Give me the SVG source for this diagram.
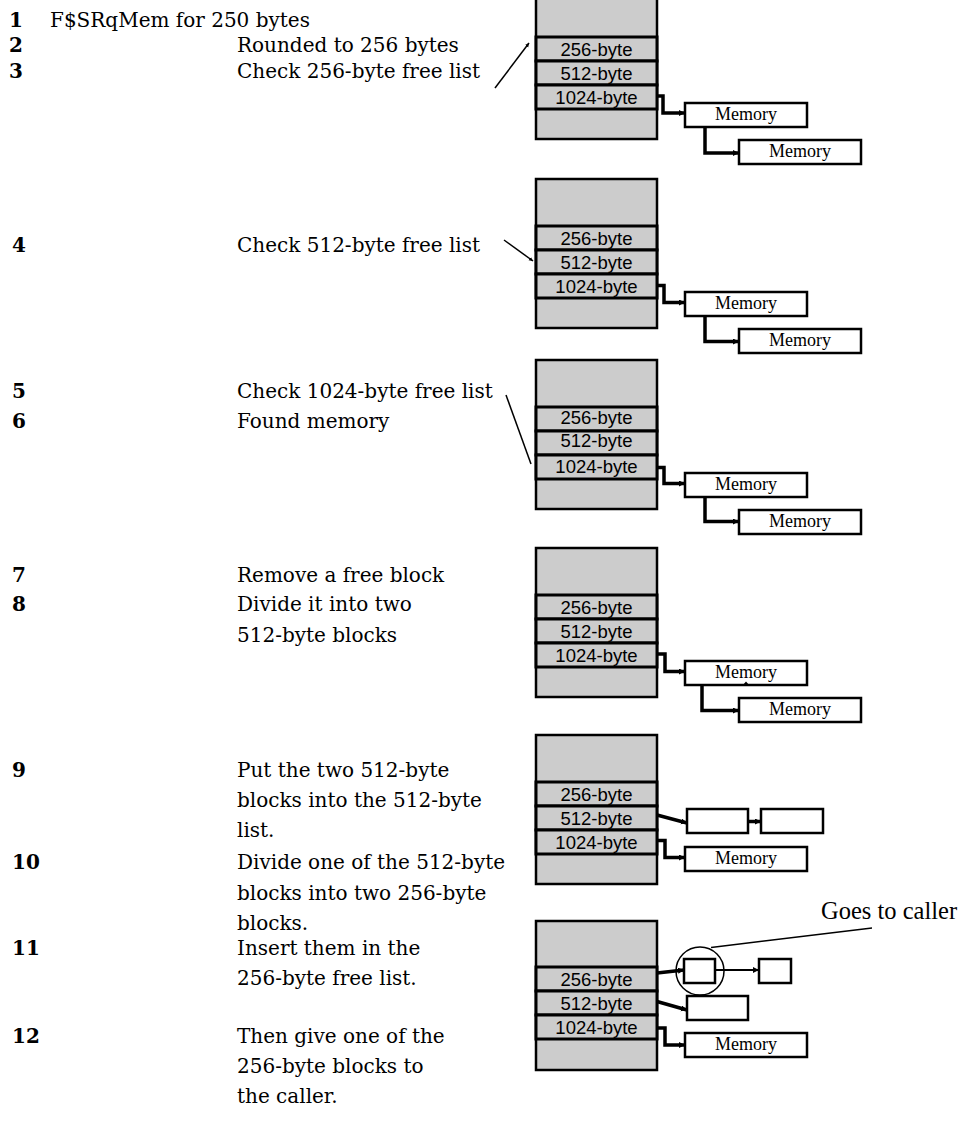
<svg xmlns="http://www.w3.org/2000/svg" width="969" height="1135" viewBox="0 0 969 1135">
<style>
.txt{font-family:"DejaVu Serif","Liberation Serif",serif;font-size:20px;fill:#000}
.num{font-family:"DejaVu Serif","Liberation Serif",serif;font-size:20px;font-weight:bold;fill:#000}
.big{fill:#cccccc;stroke:#000;stroke-width:2.5}
.row{fill:#cccccc;stroke:#000;stroke-width:3}
.rl{font-family:"Liberation Sans",Arial,sans-serif;font-size:18.5px;text-anchor:middle;fill:#000}
.box{fill:#fff;stroke:#000;stroke-width:2.5}
.ml{font-family:"Liberation Serif","Times New Roman",serif;font-size:18px;text-anchor:middle;fill:#000}
.con{fill:none;stroke:#000;stroke-width:3.5;marker-end:url(#ah)}
.con2{fill:none;stroke:#000;stroke-width:2;marker-end:url(#ah)}
.ptr{fill:none;stroke:#000;stroke-width:1.5}
</style>
<defs>
<marker id="ah" markerUnits="userSpaceOnUse" markerWidth="8" markerHeight="8" refX="6" refY="3" orient="auto">
<path d="M0,0 L6,3 L0,6 Z" fill="#000"/>
</marker>
<marker id="ahs" markerUnits="userSpaceOnUse" markerWidth="6" markerHeight="6" refX="4" refY="2" orient="auto">
<path d="M0,0 L4,2 L0,4 Z" fill="#000"/>
</marker>
</defs>

<g id="steps">
<text class="num" x="9" y="27">1</text><text class="txt" x="50" y="27">F$SRqMem for 250 bytes</text>
<text class="num" x="9" y="52">2</text><text class="txt" x="237" y="52">Rounded to 256 bytes</text>
<text class="num" x="9" y="78">3</text><text class="txt" x="237" y="78">Check 256-byte free list</text>
<text class="num" x="12" y="252">4</text><text class="txt" x="237" y="252">Check 512-byte free list</text>
<text class="num" x="12" y="398">5</text><text class="txt" x="237" y="398">Check 1024-byte free list</text>
<text class="num" x="12" y="428">6</text><text class="txt" x="237" y="428">Found memory</text>
<text class="num" x="12" y="582">7</text><text class="txt" x="237" y="582">Remove a free block</text>
<text class="num" x="12" y="611">8</text><text class="txt" x="237" y="611">Divide it into two</text>
<text class="txt" x="237" y="642">512-byte blocks</text>
<text class="num" x="12" y="777">9</text><text class="txt" x="237" y="777">Put the two 512-byte</text>
<text class="txt" x="237" y="807">blocks into the 512-byte</text>
<text class="txt" x="237" y="837">list.</text>
<text class="num" x="12" y="869">10</text><text class="txt" x="237" y="869">Divide one of the 512-byte</text>
<text class="txt" x="237" y="900">blocks into two 256-byte</text>
<text class="txt" x="237" y="930">blocks.</text>
<text class="num" x="12" y="955">11</text><text class="txt" x="237" y="955">Insert them in the</text>
<text class="txt" x="237" y="985">256-byte free list.</text>
<text class="num" x="12" y="1043">12</text><text class="txt" x="237" y="1043">Then give one of the</text>
<text class="txt" x="237" y="1073">256-byte blocks to</text>
<text class="txt" x="237" y="1103">the caller.</text>
</g>

<!-- Panel 1 -->
<g id="panel1" transform="translate(0,-10)">
<rect class="big" x="536" y="0" width="121" height="149"/>
<rect class="row" x="536" y="47" width="121" height="24"/>
<rect class="row" x="536" y="71" width="121" height="24"/>
<rect class="row" x="536" y="95" width="121" height="24"/>
<text class="rl" x="596.5" y="66">256-byte</text>
<text class="rl" x="596.5" y="90">512-byte</text>
<text class="rl" x="596.5" y="114">1024-byte</text>
<rect class="box" x="685" y="113" width="122" height="24"/>
<text class="ml" x="746" y="130">Memory</text>
<rect class="box" x="739" y="150" width="122" height="24"/>
<text class="ml" x="800" y="167">Memory</text>
</g>
<!-- Panel 2 -->
<g id="panel2" transform="translate(0,179)">
<rect class="big" x="536" y="0" width="121" height="149"/>
<rect class="row" x="536" y="47" width="121" height="24"/>
<rect class="row" x="536" y="71" width="121" height="24"/>
<rect class="row" x="536" y="95" width="121" height="24"/>
<text class="rl" x="596.5" y="66">256-byte</text>
<text class="rl" x="596.5" y="90">512-byte</text>
<text class="rl" x="596.5" y="114">1024-byte</text>
<rect class="box" x="685" y="113" width="122" height="24"/>
<text class="ml" x="746" y="130">Memory</text>
<rect class="box" x="739" y="150" width="122" height="24"/>
<text class="ml" x="800" y="167">Memory</text>
</g>
<!-- Panel 3 -->
<g id="panel3" transform="translate(0,360)">
<rect class="big" x="536" y="0" width="121" height="149"/>
<rect class="row" x="536" y="47" width="121" height="24"/>
<rect class="row" x="536" y="71" width="121" height="24"/>
<rect class="row" x="536" y="95" width="121" height="24"/>
<text class="rl" x="596.5" y="64">256-byte</text>
<text class="rl" x="596.5" y="87">512-byte</text>
<text class="rl" x="596.5" y="113">1024-byte</text>
<rect class="box" x="685" y="113" width="122" height="24"/>
<text class="ml" x="746" y="130">Memory</text>
<rect class="box" x="739" y="150" width="122" height="24"/>
<text class="ml" x="800" y="167">Memory</text>
</g>
<!-- Panel 4 -->
<g id="panel4" transform="translate(0,548)">
<rect class="big" x="536" y="0" width="121" height="149"/>
<rect class="row" x="536" y="47" width="121" height="24"/>
<rect class="row" x="536" y="71" width="121" height="24"/>
<rect class="row" x="536" y="95" width="121" height="24"/>
<text class="rl" x="596.5" y="66">256-byte</text>
<text class="rl" x="596.5" y="90">512-byte</text>
<text class="rl" x="596.5" y="114">1024-byte</text>
<rect class="box" x="685" y="113" width="122" height="24"/>
<text class="ml" x="746" y="130">Memory</text>
<path d="M743,137 L746,133.5 L749,137 Z" fill="#000"/>
<rect class="box" x="739" y="150" width="122" height="24"/>
<text class="ml" x="800" y="167">Memory</text>
</g>
<!-- Panel 5 -->
<g id="panel5" transform="translate(0,735)">
<rect class="big" x="536" y="0" width="121" height="149"/>
<rect class="row" x="536" y="47" width="121" height="24"/>
<rect class="row" x="536" y="71" width="121" height="24"/>
<rect class="row" x="536" y="95" width="121" height="24"/>
<text class="rl" x="596.5" y="66">256-byte</text>
<text class="rl" x="596.5" y="90">512-byte</text>
<text class="rl" x="596.5" y="114">1024-byte</text>
<rect class="box" x="687" y="74" width="61" height="24"/>
<rect class="box" x="761" y="74" width="62" height="24"/>
<rect class="box" x="685" y="112" width="122" height="24"/>
<text class="ml" x="746" y="129">Memory</text>
</g>
<!-- Panel 6 -->
<g id="panel6" transform="translate(0,921)">
<rect class="big" x="536" y="0" width="121" height="149"/>
<rect class="row" x="536" y="46" width="121" height="24"/>
<rect class="row" x="536" y="70" width="121" height="24"/>
<rect class="row" x="536" y="94" width="121" height="24"/>
<text class="rl" x="596.5" y="65">256-byte</text>
<text class="rl" x="596.5" y="89">512-byte</text>
<text class="rl" x="596.5" y="113">1024-byte</text>
<rect class="box" x="684" y="38" width="31" height="24"/>
<rect class="box" x="759" y="38" width="32" height="24"/>
<rect class="box" x="687" y="75" width="61" height="24"/>
<rect class="box" x="685" y="112" width="122" height="24"/>
<text class="ml" x="746" y="129">Memory</text>
</g>
<g id="callout">
<circle cx="700" cy="971" r="24" fill="none" stroke="#000" stroke-width="1.5"/>
<line x1="711" y1="947.5" x2="872" y2="928" stroke="#000" stroke-width="1.5"/>
<text x="821" y="919" font-family="Liberation Serif, Times New Roman, serif" font-size="24.5">Goes to caller</text>
</g>

<g id="connectors">
<!-- pointers -->
<line class="ptr" x1="495" y1="88" x2="529" y2="43" marker-end="url(#ahs)"/>
<line class="ptr" x1="504" y1="240" x2="533" y2="261" marker-end="url(#ahs)"/>
<line class="ptr" x1="506" y1="395" x2="531" y2="464"/>
<!-- panel 1 -->
<path class="con" d="M657,96 H663 V113 H685"/>
<path class="con" d="M705,127 V153 H739"/>
<!-- panel 2 -->
<path class="con" d="M657,285.5 H664 V302.5 H685"/>
<path class="con" d="M705,316 V341.5 H739"/>
<!-- panel 3 -->
<path class="con" d="M657,467.5 H664 V483.5 H685"/>
<path class="con" d="M705,497 V521.5 H739"/>
<!-- panel 4 -->
<path class="con" d="M657,654 H665 V671.5 H685"/>
<path class="con" d="M702,685 V710.5 H739"/>
<!-- panel 5 -->
<path class="con" d="M657,815 L687,823"/>
<path class="con" d="M748,821.5 H761"/>
<path class="con" d="M657,840.5 H665 V857.5 H685"/>
<!-- panel 6 -->
<path class="con" d="M657,973 L684,970"/>
<path class="con2" d="M715,970 H759"/>
<path class="con" d="M657,1001.5 L687,1010"/>
<path class="con" d="M657,1028 H665 V1045 H685"/>
</g>
</svg>
